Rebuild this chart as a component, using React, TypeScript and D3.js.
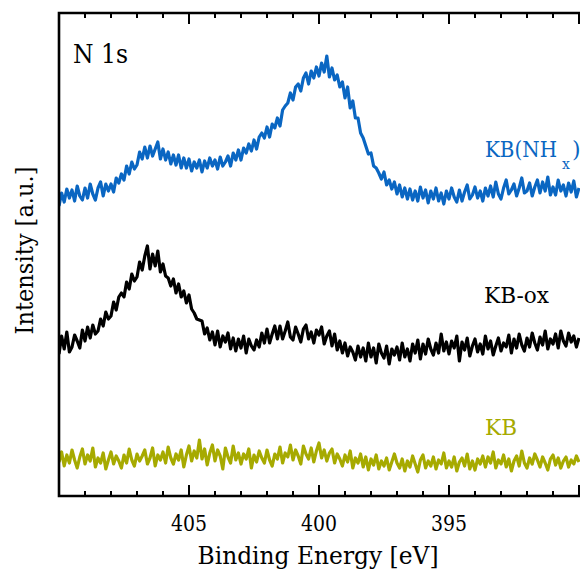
import React from "react";
import * as d3 from "d3";

// Binding energy grid: 410.0 eV down to 390.0 eV in 0.1 eV steps (201 points)
const energyStart = 410;
const energyStep = 0.1;

// KB(NHx) intensity (a.u., stacked)
const kbNHx = [
  290, 303, 294, 307, 298, 306, 295, 310, 300, 296,
  308, 298, 312, 302, 296, 308, 314, 300, 312, 305,
  312, 304, 318, 313, 322, 316, 330, 322, 334, 327,
  331, 344, 337, 349, 338, 350, 340, 347, 354, 337,
  347, 336, 344, 332, 341, 331, 341, 328, 338, 328,
  337, 325, 334, 328, 336, 324, 335, 328, 338, 330,
  336, 327, 339, 330, 334, 340, 330, 343, 336, 346,
  336, 348, 343, 352, 345, 356, 347, 359, 363, 358,
  369, 359, 372, 368, 378, 370, 386, 390, 393, 403,
  396, 409, 412, 405, 418, 423, 412, 425, 418, 429,
  420, 433, 424, 440, 419, 428, 416, 421, 409, 414,
  398, 409, 388, 395, 378, 378, 363, 358, 350, 342,
  343, 330, 328, 323, 317, 324, 311, 316, 307, 314,
  302, 311, 299, 308, 297, 307, 296, 305, 295, 309,
  298, 306, 293, 305, 297, 308, 295, 303, 292, 305,
  297, 308, 299, 294, 306, 295, 304, 311, 297, 301,
  309, 298, 305, 295, 308, 300, 310, 299, 314, 302,
  297, 308, 316, 302, 306, 312, 300, 308, 318, 303,
  305, 313, 300, 309, 316, 303, 314, 305, 319, 301,
  309, 301, 316, 305, 311, 300, 313, 304, 315, 299,
  308,
];

// KB-ox intensity
const kbOx = [
  142, 160, 147, 164, 144, 149, 161, 155, 148, 166,
  155, 169, 158, 171, 162, 165, 177, 170, 184, 177,
  180, 194, 186, 199, 203, 199, 214, 207, 222, 215,
  219, 234, 226, 240, 250, 227, 242, 230, 245, 224,
  232, 220, 218, 210, 217, 203, 212, 199, 205, 193,
  201, 187, 183, 177, 176, 175, 162, 168, 156, 164,
  151, 165, 149, 160, 154, 163, 147, 158, 145, 157,
  148, 160, 143, 157, 150, 146, 156, 149, 163, 153,
  167, 153, 162, 170, 157, 170, 157, 165, 174, 159,
  156, 169, 162, 154, 167, 171, 157, 164, 153, 166,
  161, 169, 152, 160, 165, 150, 162, 146, 155, 143,
  153, 140, 149, 144, 136, 150, 139, 148, 135, 153,
  139, 148, 133, 152, 143, 138, 150, 132, 147, 141,
  149, 136, 153, 139, 147, 135, 152, 143, 156, 137,
  152, 142, 157, 147, 141, 153, 143, 162, 145, 154,
  142, 155, 148, 160, 135, 154, 146, 158, 140, 150,
  157, 144, 152, 142, 160, 147, 155, 141, 150, 158,
  145, 153, 149, 161, 143, 157, 148, 162, 151, 145,
  158, 149, 163, 153, 146, 159, 151, 165, 147, 157,
  152, 162, 148, 165, 155, 150, 163, 154, 160, 149,
  158,
];

// KB intensity
const kb = [
  34, 44, 30, 41, 33, 46, 36, 28, 39, 47,
  32, 41, 35, 48, 29, 38, 33, 43, 27, 36,
  44, 32, 40, 35, 28, 41, 33, 47, 36, 30,
  42, 35, 40, 46, 32, 38, 48, 30, 41, 36,
  44, 33, 49, 38, 32, 42, 36, 46, 29, 41,
  50, 35, 45, 38, 56, 37, 47, 31, 43, 51,
  35, 46, 40, 27, 48, 39, 33, 50, 36, 43,
  32, 42, 37, 47, 28, 41, 34, 45, 38, 33,
  46, 36, 30, 42, 37, 49, 33, 43, 39, 51,
  36, 46, 40, 32, 50, 42, 37, 48, 34, 45,
  53, 38, 46, 35, 43, 47, 33, 42, 37, 30,
  41, 34, 45, 28, 38, 33, 42, 29, 39, 26,
  37, 31, 41, 27, 35, 30, 38, 26, 34, 42,
  33, 28, 37, 25, 35, 29, 40, 32, 24, 36,
  41, 28, 35, 30, 39, 27, 36, 32, 43, 28,
  35, 29, 39, 25, 34, 38, 30, 42, 27, 35,
  26, 37, 32, 40, 29, 39, 33, 44, 28, 36,
  32, 41, 29, 37, 25, 35, 40, 30, 45, 33,
  28, 38, 32, 42, 36, 29, 39, 33, 26, 37,
  41, 31, 38, 28, 35, 39, 29, 36, 32, 40,
  34,
];

const seriesNames = ["KB(NH", "KB-ox", "KB"];
const seriesColors = ["#0A66C2", "#000000", "#A6AA00"];
const majorTicks = [405, 400, 395];
const minorTicks = d3.range(390, 411, 1);

const W = 580;
const H = 573;
const left = 59;
const right = 579;
const top = 13;
const bottom = 496;

const FONT = '"DejaVu Serif", serif';

export default function App() {
  const x = d3.scaleLinear().domain([410, 390]).range([left, right]);
  const y = d3.scaleLinear().domain([0, 483]).range([bottom, top]);
  const energies = kb.map((_, i) => energyStart - i * energyStep);
  const line = d3
    .line<number>()
    .x((_, i) => x(energies[i]))
    .y((v) => y(v));
  const data = [kbNHx, kbOx, kb];
  const ts = { fontFamily: FONT };
  const fit = "spacingAndGlyphs";

  return (
    <svg
      width={W}
      height={H}
      style={{ position: "absolute", left: 0, top: 0, background: "#fff" }}
    >
      <defs>
        <clipPath id="plot">
          <rect x={left} y={top} width={W - left} height={bottom - top} />
        </clipPath>
      </defs>
      <g clipPath="url(#plot)">
        {data.map((d, k) => (
          <path
            key={k}
            d={line(d) || ""}
            fill="none"
            stroke={seriesColors[k]}
            strokeWidth={3.2}
            strokeLinejoin="round"
          />
        ))}
      </g>
      <path
        d={`M${left},${top} L${W + 2},${top} M${left},${top - 1.3} L${left},${bottom + 1.3} M${left},${bottom} L${W + 2},${bottom}`}
        stroke="#000"
        strokeWidth={2.6}
        fill="none"
      />
      {minorTicks.map((t) => {
        const major = t % 5 === 0;
        const len = major ? 11 : 5;
        const px = x(t);
        return (
          <g key={t}>
            <line x1={px} x2={px} y1={bottom} y2={bottom - len} stroke="#000" strokeWidth={2} />
            <line x1={px} x2={px} y1={top} y2={top + len} stroke="#000" strokeWidth={2} />
          </g>
        );
      })}
      {majorTicks.map((t) => (
        <text key={t} x={x(t)} y={531} textAnchor="middle" fontSize={23} style={ts} textLength={36} lengthAdjust={fit}>
          {t}
        </text>
      ))}
      <text x={(left + right) / 2 - 1} y={564} textAnchor="middle" fontSize={25} style={ts} textLength={241} lengthAdjust={fit}>
        Binding Energy [eV]
      </text>
      <text
        transform={`translate(33, ${(top + bottom) / 2 - 4}) rotate(-90)`}
        textAnchor="middle"
        fontSize={25}
        style={ts}
        textLength={168}
        lengthAdjust={fit}
      >
        Intensity [a.u.]
      </text>
      <text x={73} y={63} fontSize={26} style={ts} textLength={55} lengthAdjust={fit}>
        N 1s
      </text>
      <text fontSize={22} fill={seriesColors[0]} style={ts}>
        <tspan x={485} y={157} textLength={72} lengthAdjust={fit}>
          {seriesNames[0]}
        </tspan>
        <tspan x={562} y={169} fontSize={14}>
          x
        </tspan>
        <tspan x={572} y={157}>
          )
        </tspan>
      </text>
      <text x={484} y={303} fontSize={22} fill={seriesColors[1]} style={ts} textLength={65} lengthAdjust={fit}>
        {seriesNames[1]}
      </text>
      <text x={485} y={435} fontSize={22} fill={seriesColors[2]} style={ts} textLength={32} lengthAdjust={fit}>
        {seriesNames[2]}
      </text>
    </svg>
  );
}
